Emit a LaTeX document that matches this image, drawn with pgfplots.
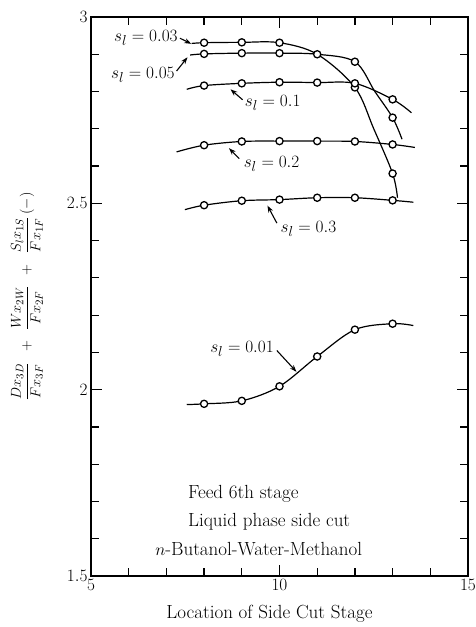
\documentclass[border=0pt]{standalone}
\usepackage{fontspec}
\usepackage{pgfplots}
\pgfplotsset{compat=1.18}
\usetikzlibrary{arrows.meta}

\newcommand{\txt}{\fontsize{19}{22}\selectfont\addfontfeature{LetterSpace=8}}
\newcommand{\ann}{\fontsize{19}{22}\selectfont}

\begin{document}
\begin{tikzpicture}
\begin{axis}[
  scale only axis, width=377pt, height=559pt,
  xmin=5, xmax=15, ymin=1.5, ymax=3,
  xtick={5,10,15}, minor xtick={6,...,14},
  ytick={1.5,2,2.5,3}, minor ytick={1.6,1.7,...,2.95},
  tick align=inside, major tick length=11pt, minor tick length=8pt,
  axis line style={line width=1.6pt},
  tick style={black, line width=1.2pt},
  ticklabel style={font=\fontsize{18}{20}\selectfont},
  xlabel={\fontsize{19}{22}\selectfont\addfontfeature{LetterSpace=15}Location of Side Cut Stage},
  xlabel style={at={(axis description cs:0.5,0)}, anchor=center, yshift=-38pt, xshift=-10pt},
  ylabel={\fontsize{15.5}{18}\selectfont$\displaystyle\frac{Dx_{3D}}{Fx_{3F}}\enspace+\enspace\frac{Wx_{2W}}{Fx_{2F}}\enspace+\enspace\frac{S_lx_{1S}}{Fx_{1F}}\,(-)$},
  ylabel style={at={(axis description cs:-0.17,0.5)}, anchor=center},
  clip=false,
  line/.style={line width=1.2pt, smooth, tension=0.55, no markers},
  pts/.style={only marks, mark=*, mark size=3.6pt, mark options={line width=1.3pt, draw=black, fill=white}},
]
% s_l = 0.03
\addplot[line] coordinates {(7.67,2.929) (8,2.931) (9,2.932) (10,2.931) (11,2.900) (12,2.811) (12.5,2.700) (13,2.580) (13.13,2.515)};
% s_l = 0.05
\addplot[line] coordinates {(7.63,2.898) (8,2.901) (9,2.903) (10,2.903) (11,2.900) (12,2.880) (12.53,2.800) (13,2.730) (13.25,2.672)};
% s_l = 0.1
\addplot[line] coordinates {(7.54,2.806) (8,2.816) (9,2.822) (10,2.825) (11,2.824) (12,2.822) (13,2.779) (13.5,2.743)};
% s_l = 0.2
\addplot[line] coordinates {(7.27,2.638) (8,2.656) (9,2.666) (10,2.667) (11,2.667) (12,2.666) (13,2.658) (13.59,2.650)};
% s_l = 0.3
\addplot[line] coordinates {(7.49,2.483) (8,2.495) (9,2.507) (10,2.510) (11,2.515) (12,2.515) (13,2.508) (13.55,2.503)};
% s_l = 0.01
\addplot[line] coordinates {(7.54,1.960) (8,1.962) (9,1.970) (10,2.009) (11,2.089) (12,2.161) (13,2.177) (13.55,2.172)};

% circles
\addplot[pts] coordinates {(8,2.931) (9,2.932) (10,2.931) (12,2.811) (13,2.580)};
\addplot[pts] coordinates {(8,2.901) (9,2.903) (10,2.903) (11,2.900) (12,2.880) (13,2.730)};
\addplot[pts] coordinates {(8,2.816) (9,2.822) (10,2.825) (11,2.824) (12,2.822) (13,2.779)};
\addplot[pts] coordinates {(8,2.656) (9,2.666) (10,2.667) (11,2.667) (12,2.666) (13,2.658)};
\addplot[pts] coordinates {(8,2.495) (9,2.507) (10,2.510) (11,2.515) (12,2.515) (13,2.508)};
\addplot[pts] coordinates {(8,1.962) (9,1.970) (10,2.009) (11,2.089) (12,2.161) (13,2.177)};

% labels
\node[anchor=east, inner sep=1pt] at (axis cs:7.33,2.944) {\ann $s_l=0.03$};
\draw[-{Stealth[length=7pt,width=5pt]}, line width=1.1pt] (axis cs:7.36,2.943) -- (axis cs:7.66,2.928);
\node[anchor=east, inner sep=1pt] at (axis cs:7.25,2.844) {\ann $s_l=0.05$};
\draw[-{Stealth[length=7pt,width=5pt]}, line width=1.1pt] (axis cs:7.27,2.855) -- (axis cs:7.56,2.892);
\node[anchor=west, inner sep=1pt] at (axis cs:9.05,2.769) {\ann $s_l=0.1$};
\draw[-{Stealth[length=7pt,width=5pt]}, line width=1.1pt] (axis cs:9.02,2.778) -- (axis cs:8.70,2.806);
\node[anchor=west, inner sep=1pt] at (axis cs:9.02,2.607) {\ann $s_l=0.2$};
\draw[-{Stealth[length=7pt,width=5pt]}, line width=1.1pt] (axis cs:8.93,2.620) -- (axis cs:8.66,2.648);
\node[anchor=west, inner sep=1pt] at (axis cs:10.0,2.432) {\ann $s_l=0.3$};
\draw[-{Stealth[length=7pt,width=5pt]}, line width=1.1pt] (axis cs:9.93,2.447) -- (axis cs:9.68,2.494);
\node[anchor=east, inner sep=1pt] at (axis cs:9.88,2.109) {\ann $s_l=0.01$};
\draw[-{Stealth[length=7pt,width=5pt]}, line width=1.1pt] (axis cs:9.93,2.105) -- (axis cs:10.45,2.048);

% description
\node[anchor=west, inner sep=0pt] at (axis cs:7.57,1.720) {\txt Feed 6th stage};
\node[anchor=west, inner sep=0pt] at (axis cs:7.57,1.645) {\txt Liquid phase side cut};
\node[anchor=west, inner sep=0pt] at (axis cs:6.70,1.573) {\txt $n$-Butanol-Water-Methanol};
\end{axis}
\pgfresetboundingbox
\path ([shift={(-91pt,-51pt)}]current axis.south west) rectangle ([shift={(8pt,17pt)}]current axis.north east);
\end{tikzpicture}
\end{document}
